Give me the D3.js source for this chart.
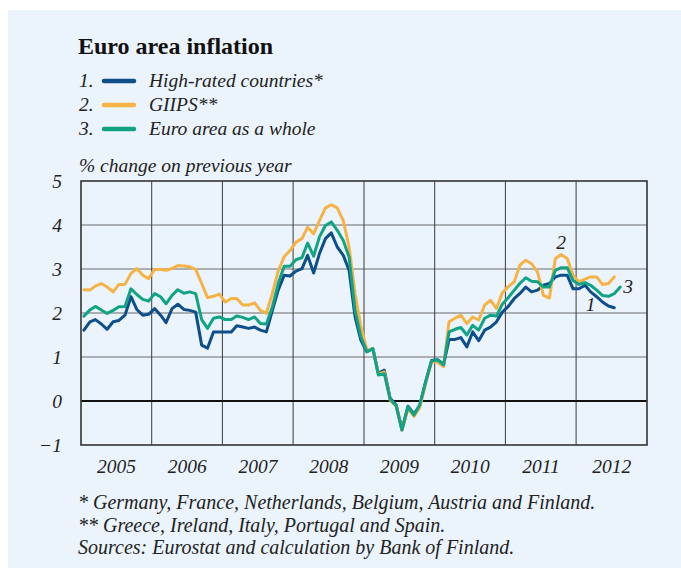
<!DOCTYPE html>
<html>
<head>
<meta charset="utf-8">
<script src="https://cdn.jsdelivr.net/npm/d3@7"></script>
<style>
  body { margin: 0; background: #fff; }
  svg { display: block; font-family: "Liberation Serif", "DejaVu Serif", serif; }
  .grid { stroke: #6b6b6b; stroke-width: 1.2; }
  .vgrid { stroke: #3a3a3a; stroke-width: 1; }
  .zero { stroke: #111; stroke-width: 2; }
  .frame { fill: none; stroke: #333; stroke-width: 1.6; }
  .series { fill: none; stroke-width: 3; stroke-linejoin: round; stroke-linecap: round; }
  .lab { font-family: "Liberation Serif", serif; font-style: italic; font-size: 19.5px; fill: #222; }
  .note { font-size: 20px; }
</style>
</head>
<body>
<svg width="681" height="568"></svg>
<script>
// monthly data, Jan 2005 onward (% change on previous year)
var highRated = [
  1.61, 1.80, 1.85, 1.75, 1.63, 1.80, 1.83, 1.95, 2.37, 2.08, 1.95, 1.97,
  2.10, 1.95, 1.78, 2.10, 2.20, 2.08, 2.06, 2.02, 1.27, 1.20, 1.57, 1.57,
  1.57, 1.57, 1.71, 1.68, 1.65, 1.68, 1.61, 1.57, 2.06, 2.52, 2.86, 2.84,
  2.95, 3.01, 3.31, 2.91, 3.35, 3.69, 3.82, 3.50, 3.31, 2.97, 1.91, 1.38,
  1.12, 1.19, 0.63, 0.70, 0.06, -0.09, -0.65, -0.12, -0.30, -0.10, 0.45, 0.92,
  0.94, 0.83, 1.40, 1.40, 1.44, 1.23, 1.57, 1.37, 1.61, 1.68, 1.80, 2.02,
  2.15, 2.33, 2.44, 2.59, 2.48, 2.52, 2.63, 2.67, 2.82, 2.86, 2.86, 2.55,
  2.55, 2.63, 2.48, 2.37, 2.25, 2.16, 2.12
];
var giips = [
  2.53, 2.52, 2.61, 2.67, 2.59, 2.48, 2.65, 2.65, 2.90, 3.01, 2.86, 2.78,
  2.99, 2.99, 2.97, 3.01, 3.08, 3.07, 3.05, 2.99, 2.67, 2.35, 2.38, 2.43,
  2.25, 2.33, 2.33, 2.18, 2.18, 2.23, 2.06, 1.99, 2.45, 2.95, 3.28, 3.42,
  3.61, 3.69, 3.95, 3.80, 4.10, 4.39, 4.46, 4.39, 4.10, 3.50, 2.44, 1.69,
  1.16, 1.19, 0.61, 0.66, 0.02, -0.12, -0.66, -0.18, -0.35, -0.15, 0.40, 0.90,
  0.88, 0.78, 1.80, 1.88, 1.95, 1.76, 1.91, 1.84, 2.18, 2.29, 2.10, 2.46,
  2.60, 2.71, 3.08, 3.20, 3.12, 2.93, 2.40, 2.34, 3.24, 3.33, 3.24, 2.86,
  2.71, 2.77, 2.82, 2.82, 2.65, 2.67, 2.82
];
var euroArea = [
  1.93, 2.07, 2.15, 2.07, 1.99, 2.06, 2.14, 2.15, 2.55, 2.42, 2.31, 2.27,
  2.44, 2.37, 2.21, 2.40, 2.53, 2.45, 2.48, 2.44, 1.85, 1.65, 1.88, 1.91,
  1.85, 1.85, 1.93, 1.90, 1.85, 1.91, 1.76, 1.75, 2.14, 2.67, 3.06, 3.06,
  3.21, 3.26, 3.59, 3.29, 3.73, 3.99, 4.07, 3.88, 3.65, 3.27, 2.06, 1.46,
  1.12, 1.19, 0.59, 0.62, 0.04, -0.11, -0.66, -0.13, -0.32, -0.09, 0.44, 0.91,
  0.93, 0.82, 1.57, 1.63, 1.67, 1.50, 1.72, 1.61, 1.88, 1.95, 1.93, 2.20,
  2.35, 2.52, 2.67, 2.80, 2.72, 2.71, 2.59, 2.59, 2.97, 3.03, 3.03, 2.74,
  2.65, 2.69, 2.63, 2.52, 2.40, 2.38, 2.44, 2.59
];
var years = [2005, 2006, 2007, 2008, 2009, 2010, 2011, 2012];
var yTicks = [-1, 0, 1, 2, 3, 4, 5];
var legendNames = ["High-rated countries*", "GIIPS**", "Euro area as a whole"];
var colors = ["#0d4e8b", "#f6b345", "#12a385"];
var notes = [
  "* Germany, France, Netherlands, Belgium, Austria and Finland.",
  "** Greece, Ireland, Italy, Portugal and Spain.",
  "Sources: Eurostat and calculation by Bank of Finland."
];

var svg = d3.select("svg");

// panel background
svg.append("rect").attr("x", 8).attr("y", 10).attr("width", 681).attr("height", 568)
    .attr("fill", "#ebf4fc");

var pLeft = 81, pRight = 647, pTop = 181, pBottom = 445;

var x = d3.scaleTime()
    .domain([new Date(2005, 0, 1), new Date(2013, 0, 1)])
    .range([pLeft, pRight]);
var y = d3.scaleLinear()
    .domain([-1, 5])
    .range([pBottom, pTop]);

function monthDate(i) { return new Date(2005, i, 16); }

// title + legend
svg.append("text").attr("x", 78).attr("y", 54)
    .attr("font-size", 24).attr("font-weight", "bold").attr("fill", "#111")
    .text("Euro area inflation");

var leg = svg.append("g");
legendNames.forEach(function(n, k) {
  var ly = 81 + k * 24;
  leg.append("text").attr("class", "lab").attr("x", 79).attr("y", ly + 6).text((k + 1) + ".");
  leg.append("line").attr("x1", 104).attr("x2", 134).attr("y1", ly).attr("y2", ly)
      .attr("stroke", colors[k]).attr("stroke-width", 4.5).attr("stroke-linecap", "round");
  leg.append("text").attr("class", "lab").attr("x", 149).attr("y", ly + 6).text(n);
});

svg.append("text").attr("class", "lab").attr("x", 79).attr("y", 172)
    .text("% change on previous year");

// grid
var g = svg.append("g");
g.selectAll(".grid").data(yTicks.filter(function(d) { return d > -1 && d < 5 && d !== 0; }))
  .enter().append("line").attr("class", "grid")
    .attr("x1", pLeft).attr("x2", pRight)
    .attr("y1", function(d) { return y(d); }).attr("y2", function(d) { return y(d); });
g.selectAll(".vgrid").data(years.slice(1))
  .enter().append("line").attr("class", "vgrid")
    .attr("x1", function(d) { return x(new Date(d, 0, 1)); })
    .attr("x2", function(d) { return x(new Date(d, 0, 1)); })
    .attr("y1", pTop).attr("y2", pBottom);
g.append("line").attr("class", "zero")
    .attr("x1", pLeft).attr("x2", pRight).attr("y1", y(0)).attr("y2", y(0));
g.append("rect").attr("class", "frame")
    .attr("x", pLeft).attr("y", pTop).attr("width", pRight - pLeft).attr("height", pBottom - pTop);

// axes (labels only)
var yAxis = svg.append("g").attr("transform", "translate(" + (pLeft - 19) + ",0)")
    .call(d3.axisLeft(y).tickValues(yTicks).tickFormat(d3.format("d")).tickSize(0).tickPadding(0));
var xAxis = svg.append("g").attr("transform", "translate(0," + pBottom + ")")
    .call(d3.axisBottom(x)
      .tickValues(years.map(function(d) { return new Date(d, 6, 1); }))
      .tickFormat(d3.timeFormat("%Y")).tickSize(0).tickPadding(14));
[yAxis, xAxis].forEach(function(a) {
  a.attr("font-family", null).attr("font-size", null);
  a.select(".domain").remove();
  a.selectAll("text").attr("class", "lab").attr("fill", null);
});
yAxis.selectAll("text").attr("dy", "0.35em");

// series
var line = d3.line()
    .x(function(d, i) { return x(monthDate(i)); })
    .y(function(d) { return y(d); });
[highRated, giips, euroArea].forEach(function(s, k) {
  svg.append("path").attr("class", "series").attr("stroke", colors[k]).attr("d", line(s));
});

// line labels
var iG = 81, iE = euroArea.length - 1, iB = 86;
svg.append("text").attr("class", "lab").attr("text-anchor", "middle")
    .attr("x", x(monthDate(iG))).attr("y", y(giips[iG]) - 5).text("2");
svg.append("text").attr("class", "lab")
    .attr("x", x(monthDate(iE)) + 3).attr("y", y(euroArea[iE]) + 6).text("3");
svg.append("text").attr("class", "lab").attr("text-anchor", "middle")
    .attr("x", x(monthDate(iB))).attr("y", y(highRated[iB]) + 19).text("1");

// footnotes
svg.selectAll(".note").data(notes).enter().append("text")
    .attr("class", "lab note")
    .attr("x", 78)
    .attr("y", function(d, i) { return 509 + i * 22.5; })
    .text(function(d) { return d; });
</script>
</body>
</html>
